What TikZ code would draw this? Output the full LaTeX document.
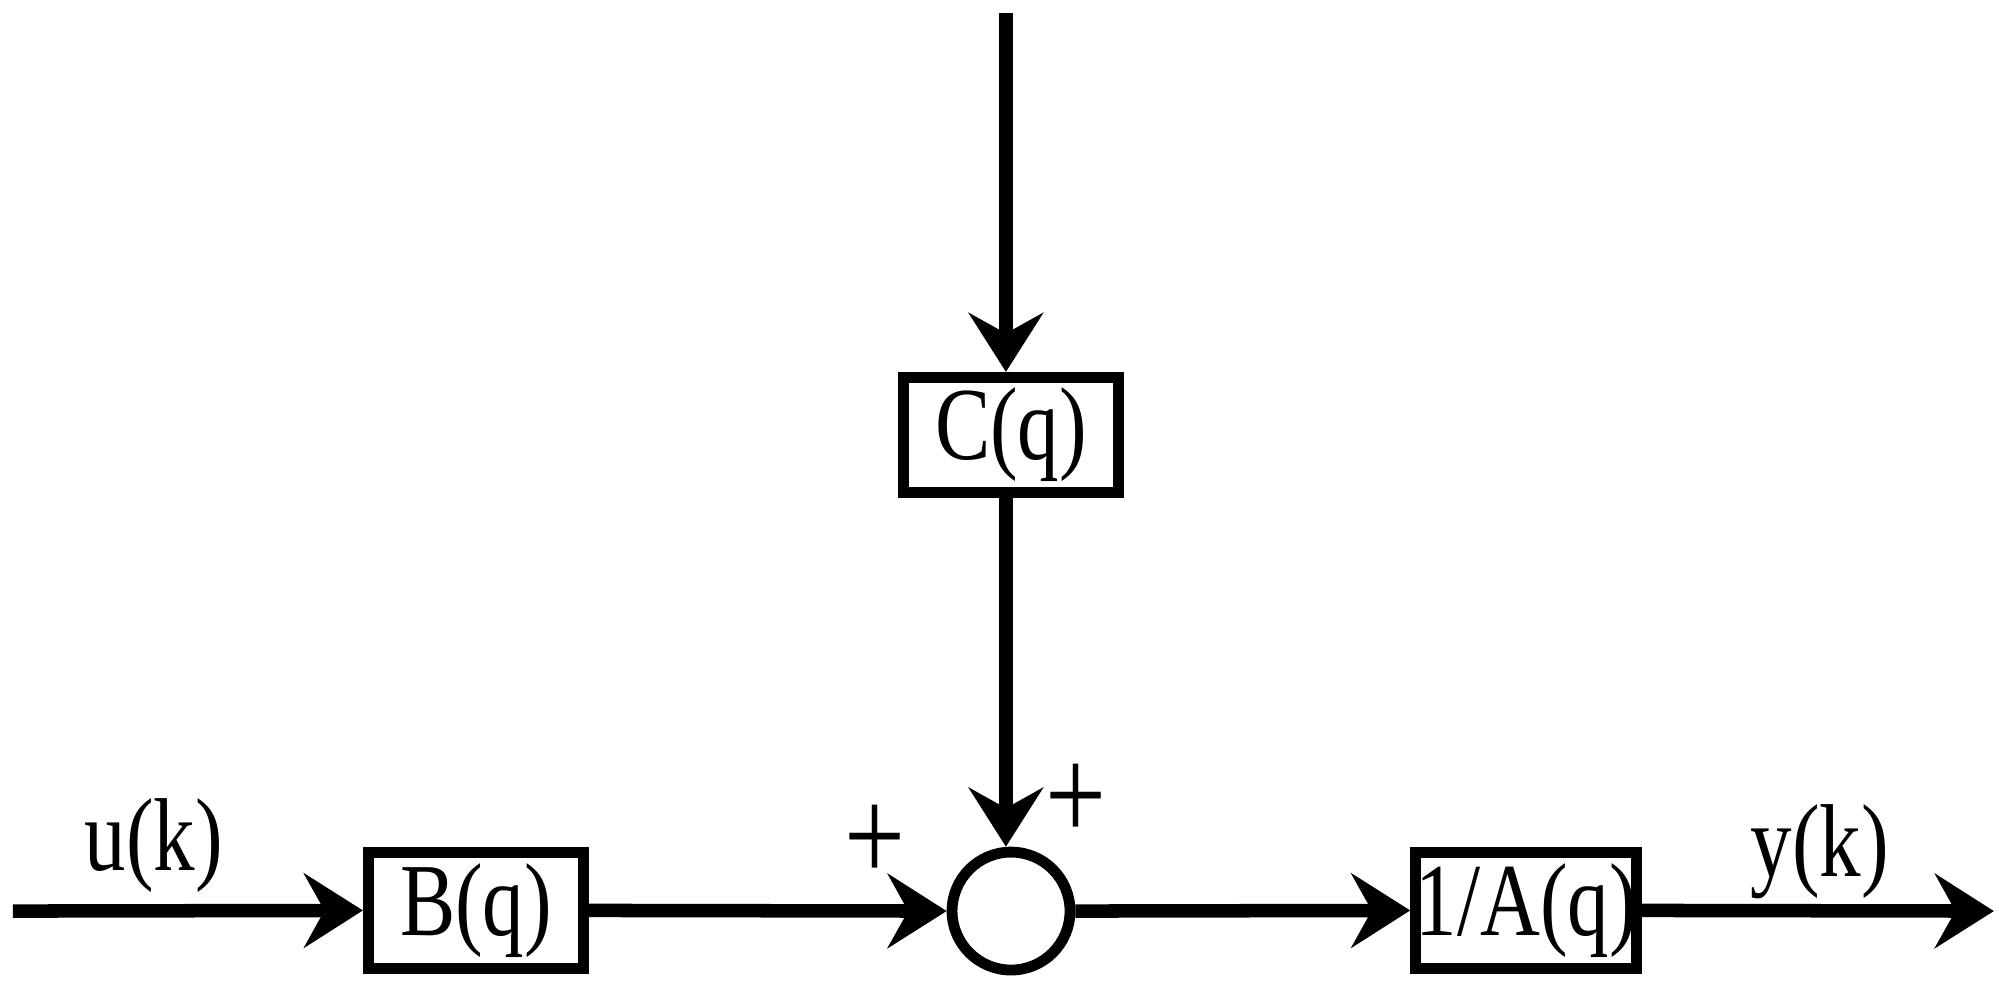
\documentclass[tikz,border=0pt]{standalone}
\usepackage{fontspec}
\setmainfont{Liberation Serif}[FakeStretch=0.8]
\usetikzlibrary{arrows.meta}
\begin{document}
\begin{tikzpicture}[x=0.01cm,y=-0.01cm,
  line width=3pt,
  blk/.style={draw,line width=2.4pt,minimum width=1.68cm,minimum height=0.9cm,inner sep=0pt,font=\fontsize{23}{25}\selectfont},
  lbl/.style={font=\fontsize{23}{25}\selectfont},
  pls/.style={font=\fontsize{30}{32}\selectfont},
  arr/.style={-{Stealth[length=0.46cm,width=0.58cm,inset=0.16cm]}}]
\useasboundingbox (0,0) rectangle (1560,777);
\node[blk] (B) at (371.5,710.5) {B(q)};
\node[blk] (A) at (1191,710.5) {1/A(q)};
\node[blk] (C) at (789,339.5) {C(q)};
\node[draw,line width=2.4pt,circle,minimum size=0.92cm,inner sep=0pt] (S) at (789,711) {};
\coordinate (in) at (10,711);
\coordinate (out) at (1556,711);
\coordinate (top) at (785,10);
\draw[arr] (in) -- (B.west);
\draw[arr] (B.east) -- (S.west);
\draw[arr] (S.east) -- (A.west);
\draw[arr] (A.east) -- (out);
\draw[arr] (top) -- (top|-C.north);
\draw[arr] (top|-C.south) -- (top|-S.north);
\node[lbl] (u) at (120,660) {u(k)};
\node[lbl] (y) at (1420,665) {y(k)};
\node[pls] (p1) at (683,658) {+};
\node[pls] (p2) at (840,626) {+};
\end{tikzpicture}
\end{document}
